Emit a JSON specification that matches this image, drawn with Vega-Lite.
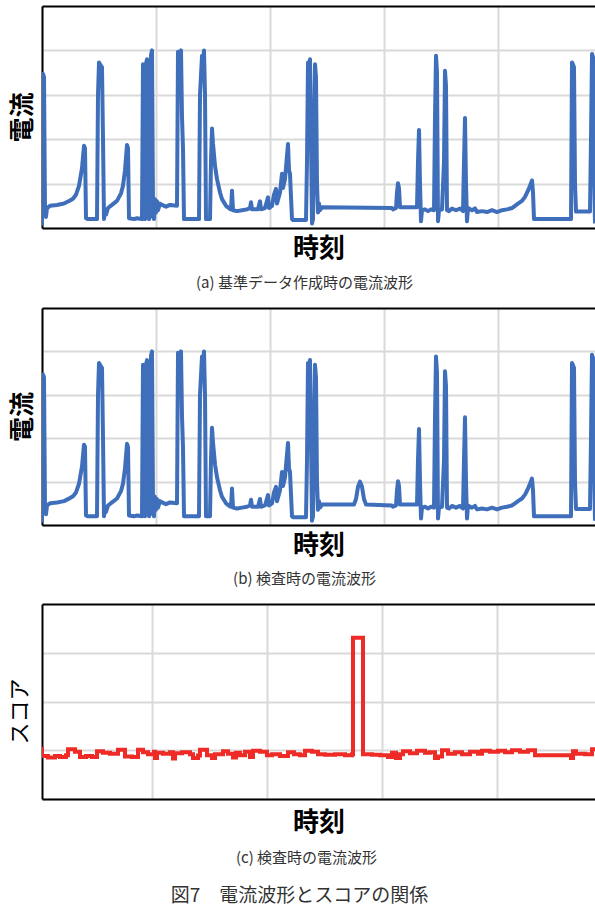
{
  "$schema": "https://vega.github.io/schema/vega-lite/v6.json",
  "padding": {"left": 8, "top": 6, "right": 0, "bottom": 4},
  "background": "white",
  "align": "none",
  "spacing": 17,
  "config": {
    "view": {"stroke": null},
    "font": "Noto Sans CJK JP",
    "axis": {"labels": false, "ticks": false, "domainColor": "black", "domainWidth": 2, "gridWidth": 2, "titleColor": "black"}
  },
  "datasets": {
    "a": [
      {"t": 0, "v": 0.05}, {"t": 1, "v": 3.47}, {"t": 2, "v": 3.4}, {"t": 3, "v": 0.4}, {"t": 4, "v": 0.25}, {"t": 5, "v": 0.45},
      {"t": 8, "v": 0.5}, {"t": 15, "v": 0.52}, {"t": 22, "v": 0.55}, {"t": 28, "v": 0.62}, {"t": 31, "v": 0.66}, {"t": 34, "v": 0.75},
      {"t": 37, "v": 0.95}, {"t": 40, "v": 1.35}, {"t": 42, "v": 1.85}, {"t": 43, "v": 1.8}, {"t": 44, "v": 0.22}, {"t": 46, "v": 0.2},
      {"t": 55, "v": 0.2}, {"t": 56, "v": 3.0}, {"t": 57, "v": 3.73}, {"t": 59, "v": 3.65}, {"t": 60, "v": 3.62}, {"t": 61, "v": 2.0},
      {"t": 62, "v": 0.2}, {"t": 63, "v": 0.38}, {"t": 64, "v": 0.3}, {"t": 66, "v": 0.45}, {"t": 70, "v": 0.52}, {"t": 75, "v": 0.61},
      {"t": 79, "v": 0.78}, {"t": 81, "v": 0.95}, {"t": 83, "v": 1.3}, {"t": 85, "v": 1.87}, {"t": 86, "v": 1.8}, {"t": 87, "v": 0.22},
      {"t": 92, "v": 0.2}, {"t": 95, "v": 0.22}, {"t": 100, "v": 0.2}, {"t": 101, "v": 3.69}, {"t": 102, "v": 3.5}, {"t": 103, "v": 0.2},
      {"t": 104, "v": 3.7}, {"t": 105, "v": 3.8}, {"t": 106, "v": 3.7}, {"t": 107, "v": 0.2}, {"t": 108, "v": 0.25}, {"t": 109, "v": 3.9},
      {"t": 110, "v": 4.0}, {"t": 111, "v": 0.5}, {"t": 112, "v": 0.2}, {"t": 113, "v": 0.65}, {"t": 114, "v": 0.35}, {"t": 115, "v": 0.6},
      {"t": 116, "v": 0.4}, {"t": 118, "v": 0.55}, {"t": 120, "v": 0.52}, {"t": 124, "v": 0.48}, {"t": 128, "v": 0.52}, {"t": 135, "v": 0.5},
      {"t": 136, "v": 3.97}, {"t": 137, "v": 3.8}, {"t": 138, "v": 3.9}, {"t": 139, "v": 4.0}, {"t": 140, "v": 2.5}, {"t": 141, "v": 1.78},
      {"t": 142, "v": 0.2}, {"t": 157, "v": 0.2}, {"t": 158, "v": 3.0}, {"t": 160, "v": 3.88}, {"t": 161, "v": 3.7}, {"t": 162, "v": 4.0},
      {"t": 163, "v": 3.0}, {"t": 164, "v": 0.2}, {"t": 168, "v": 0.2}, {"t": 169, "v": 1.5}, {"t": 170, "v": 2.24}, {"t": 171, "v": 1.9},
      {"t": 173, "v": 1.4}, {"t": 175, "v": 1.1}, {"t": 178, "v": 0.8}, {"t": 180, "v": 0.65}, {"t": 184, "v": 0.5}, {"t": 188, "v": 0.43},
      {"t": 189, "v": 0.42}, {"t": 190, "v": 0.84}, {"t": 191, "v": 0.4}, {"t": 195, "v": 0.38}, {"t": 200, "v": 0.4}, {"t": 205, "v": 0.42},
      {"t": 208, "v": 0.45}, {"t": 209, "v": 0.58}, {"t": 210, "v": 0.42}, {"t": 216, "v": 0.42}, {"t": 218, "v": 0.6}, {"t": 219, "v": 0.42},
      {"t": 223, "v": 0.45}, {"t": 226, "v": 0.69}, {"t": 227, "v": 0.45}, {"t": 230, "v": 0.5}, {"t": 232, "v": 0.75}, {"t": 234, "v": 0.88},
      {"t": 235, "v": 0.55}, {"t": 238, "v": 0.8}, {"t": 240, "v": 1.22}, {"t": 241, "v": 0.9}, {"t": 243, "v": 1.1}, {"t": 246, "v": 1.89},
      {"t": 247, "v": 1.3}, {"t": 248, "v": 1.22}, {"t": 249, "v": 0.7}, {"t": 250, "v": 0.2}, {"t": 251, "v": 0.18}, {"t": 264, "v": 0.18},
      {"t": 265, "v": 1.5}, {"t": 266, "v": 3.73}, {"t": 267, "v": 3.65}, {"t": 268, "v": 3.8}, {"t": 269, "v": 2.0}, {"t": 270, "v": 0.1},
      {"t": 271, "v": 0.2}, {"t": 272, "v": 2.0}, {"t": 273, "v": 3.69}, {"t": 274, "v": 3.4}, {"t": 275, "v": 1.0}, {"t": 276, "v": 0.35},
      {"t": 277, "v": 0.55}, {"t": 278, "v": 0.4}, {"t": 280, "v": 0.47}, {"t": 350, "v": 0.45}, {"t": 351, "v": 0.42}, {"t": 354, "v": 0.45},
      {"t": 355, "v": 0.8}, {"t": 356, "v": 1.01}, {"t": 357, "v": 0.9}, {"t": 358, "v": 0.47}, {"t": 375, "v": 0.47}, {"t": 376, "v": 1.5},
      {"t": 377, "v": 2.21}, {"t": 378, "v": 1.0}, {"t": 379, "v": 0.15}, {"t": 380, "v": 0.4}, {"t": 383, "v": 0.42}, {"t": 386, "v": 0.38},
      {"t": 389, "v": 0.42}, {"t": 392, "v": 0.4}, {"t": 393, "v": 2.5}, {"t": 394, "v": 3.88}, {"t": 395, "v": 3.5}, {"t": 396, "v": 0.15},
      {"t": 397, "v": 0.4}, {"t": 400, "v": 0.42}, {"t": 402, "v": 1.5}, {"t": 403, "v": 3.54}, {"t": 404, "v": 3.2}, {"t": 405, "v": 0.4},
      {"t": 407, "v": 0.38}, {"t": 410, "v": 0.44}, {"t": 414, "v": 0.4}, {"t": 418, "v": 0.44}, {"t": 421, "v": 0.38}, {"t": 422, "v": 1.5},
      {"t": 423, "v": 2.48}, {"t": 424, "v": 1.0}, {"t": 425, "v": 0.15}, {"t": 426, "v": 0.45}, {"t": 430, "v": 0.4}, {"t": 433, "v": 0.44},
      {"t": 435, "v": 0.36}, {"t": 440, "v": 0.38}, {"t": 445, "v": 0.36}, {"t": 450, "v": 0.4}, {"t": 455, "v": 0.36}, {"t": 460, "v": 0.4},
      {"t": 465, "v": 0.42}, {"t": 470, "v": 0.45}, {"t": 473, "v": 0.5}, {"t": 476, "v": 0.55}, {"t": 480, "v": 0.61}, {"t": 483, "v": 0.7},
      {"t": 486, "v": 0.84}, {"t": 488, "v": 0.95}, {"t": 490, "v": 1.07}, {"t": 491, "v": 0.8}, {"t": 492, "v": 0.2}, {"t": 500, "v": 0.2},
      {"t": 529, "v": 0.2}, {"t": 530, "v": 3.73}, {"t": 531, "v": 3.68}, {"t": 532, "v": 3.62}, {"t": 533, "v": 1.0}, {"t": 534, "v": 0.37},
      {"t": 548, "v": 0.37}, {"t": 549, "v": 2.0}, {"t": 550, "v": 3.92}, {"t": 551, "v": 3.85}, {"t": 552, "v": 1.5}, {"t": 553, "v": 0.1}
    ],
    "b": [
      {"t": 0, "v": 0.05}, {"t": 1, "v": 3.47}, {"t": 2, "v": 3.4}, {"t": 3, "v": 0.4}, {"t": 4, "v": 0.25}, {"t": 5, "v": 0.45},
      {"t": 8, "v": 0.5}, {"t": 15, "v": 0.52}, {"t": 22, "v": 0.55}, {"t": 28, "v": 0.62}, {"t": 31, "v": 0.66}, {"t": 34, "v": 0.75},
      {"t": 37, "v": 0.95}, {"t": 40, "v": 1.35}, {"t": 42, "v": 1.85}, {"t": 43, "v": 1.8}, {"t": 44, "v": 0.22}, {"t": 46, "v": 0.2},
      {"t": 55, "v": 0.2}, {"t": 56, "v": 3.0}, {"t": 57, "v": 3.73}, {"t": 59, "v": 3.65}, {"t": 60, "v": 3.62}, {"t": 61, "v": 2.0},
      {"t": 62, "v": 0.2}, {"t": 63, "v": 0.38}, {"t": 64, "v": 0.3}, {"t": 66, "v": 0.45}, {"t": 70, "v": 0.52}, {"t": 75, "v": 0.61},
      {"t": 79, "v": 0.78}, {"t": 81, "v": 0.95}, {"t": 83, "v": 1.3}, {"t": 85, "v": 1.87}, {"t": 86, "v": 1.8}, {"t": 87, "v": 0.22},
      {"t": 92, "v": 0.2}, {"t": 95, "v": 0.22}, {"t": 100, "v": 0.2}, {"t": 101, "v": 3.69}, {"t": 102, "v": 3.5}, {"t": 103, "v": 0.2},
      {"t": 104, "v": 3.7}, {"t": 105, "v": 3.8}, {"t": 106, "v": 3.7}, {"t": 107, "v": 0.2}, {"t": 108, "v": 0.25}, {"t": 109, "v": 3.9},
      {"t": 110, "v": 4.0}, {"t": 111, "v": 0.5}, {"t": 112, "v": 0.2}, {"t": 113, "v": 0.65}, {"t": 114, "v": 0.35}, {"t": 115, "v": 0.6},
      {"t": 116, "v": 0.4}, {"t": 118, "v": 0.55}, {"t": 120, "v": 0.52}, {"t": 124, "v": 0.48}, {"t": 128, "v": 0.52}, {"t": 135, "v": 0.5},
      {"t": 136, "v": 3.97}, {"t": 137, "v": 3.8}, {"t": 138, "v": 3.9}, {"t": 139, "v": 4.0}, {"t": 140, "v": 2.5}, {"t": 141, "v": 1.78},
      {"t": 142, "v": 0.2}, {"t": 157, "v": 0.2}, {"t": 158, "v": 3.0}, {"t": 160, "v": 3.88}, {"t": 161, "v": 3.7}, {"t": 162, "v": 4.0},
      {"t": 163, "v": 3.0}, {"t": 164, "v": 0.2}, {"t": 168, "v": 0.2}, {"t": 169, "v": 1.5}, {"t": 170, "v": 2.24}, {"t": 171, "v": 1.9},
      {"t": 173, "v": 1.4}, {"t": 175, "v": 1.1}, {"t": 178, "v": 0.8}, {"t": 180, "v": 0.65}, {"t": 184, "v": 0.5}, {"t": 188, "v": 0.43},
      {"t": 189, "v": 0.42}, {"t": 190, "v": 0.84}, {"t": 191, "v": 0.4}, {"t": 195, "v": 0.38}, {"t": 200, "v": 0.4}, {"t": 205, "v": 0.42},
      {"t": 208, "v": 0.45}, {"t": 209, "v": 0.58}, {"t": 210, "v": 0.42}, {"t": 216, "v": 0.42}, {"t": 218, "v": 0.6}, {"t": 219, "v": 0.42},
      {"t": 223, "v": 0.45}, {"t": 226, "v": 0.69}, {"t": 227, "v": 0.45}, {"t": 230, "v": 0.5}, {"t": 232, "v": 0.75}, {"t": 234, "v": 0.88},
      {"t": 235, "v": 0.55}, {"t": 238, "v": 0.8}, {"t": 240, "v": 1.22}, {"t": 241, "v": 0.9}, {"t": 243, "v": 1.1}, {"t": 246, "v": 1.89},
      {"t": 247, "v": 1.3}, {"t": 248, "v": 1.22}, {"t": 249, "v": 0.7}, {"t": 250, "v": 0.2}, {"t": 251, "v": 0.18}, {"t": 264, "v": 0.18},
      {"t": 265, "v": 1.5}, {"t": 266, "v": 3.73}, {"t": 267, "v": 3.65}, {"t": 268, "v": 3.8}, {"t": 269, "v": 2.0}, {"t": 270, "v": 0.1},
      {"t": 271, "v": 0.2}, {"t": 272, "v": 2.0}, {"t": 273, "v": 3.69}, {"t": 274, "v": 3.4}, {"t": 275, "v": 1.0}, {"t": 276, "v": 0.35},
      {"t": 277, "v": 0.55}, {"t": 278, "v": 0.4}, {"t": 280, "v": 0.47}, {"t": 312, "v": 0.47}, {"t": 314, "v": 0.6}, {"t": 316, "v": 0.88},
      {"t": 318, "v": 1.0}, {"t": 320, "v": 0.88}, {"t": 322, "v": 0.6}, {"t": 324, "v": 0.47},
      {"t": 350, "v": 0.45}, {"t": 351, "v": 0.42}, {"t": 354, "v": 0.45},
      {"t": 355, "v": 0.8}, {"t": 356, "v": 1.01}, {"t": 357, "v": 0.9}, {"t": 358, "v": 0.47}, {"t": 375, "v": 0.47}, {"t": 376, "v": 1.5},
      {"t": 377, "v": 2.21}, {"t": 378, "v": 1.0}, {"t": 379, "v": 0.15}, {"t": 380, "v": 0.4}, {"t": 383, "v": 0.42}, {"t": 386, "v": 0.38},
      {"t": 389, "v": 0.42}, {"t": 392, "v": 0.4}, {"t": 393, "v": 2.5}, {"t": 394, "v": 3.88}, {"t": 395, "v": 3.5}, {"t": 396, "v": 0.15},
      {"t": 397, "v": 0.4}, {"t": 400, "v": 0.42}, {"t": 402, "v": 1.5}, {"t": 403, "v": 3.54}, {"t": 404, "v": 3.2}, {"t": 405, "v": 0.4},
      {"t": 407, "v": 0.38}, {"t": 410, "v": 0.44}, {"t": 414, "v": 0.4}, {"t": 418, "v": 0.44}, {"t": 421, "v": 0.38}, {"t": 422, "v": 1.5},
      {"t": 423, "v": 2.48}, {"t": 424, "v": 1.0}, {"t": 425, "v": 0.15}, {"t": 426, "v": 0.45}, {"t": 430, "v": 0.4}, {"t": 433, "v": 0.44},
      {"t": 435, "v": 0.36}, {"t": 440, "v": 0.38}, {"t": 445, "v": 0.36}, {"t": 450, "v": 0.4}, {"t": 455, "v": 0.36}, {"t": 460, "v": 0.4},
      {"t": 465, "v": 0.42}, {"t": 470, "v": 0.45}, {"t": 473, "v": 0.5}, {"t": 476, "v": 0.55}, {"t": 480, "v": 0.61}, {"t": 483, "v": 0.7},
      {"t": 486, "v": 0.84}, {"t": 488, "v": 0.95}, {"t": 490, "v": 1.07}, {"t": 491, "v": 0.8}, {"t": 492, "v": 0.2}, {"t": 500, "v": 0.2},
      {"t": 529, "v": 0.2}, {"t": 530, "v": 3.73}, {"t": 531, "v": 3.68}, {"t": 532, "v": 3.62}, {"t": 533, "v": 1.0}, {"t": 534, "v": 0.37},
      {"t": 548, "v": 0.37}, {"t": 549, "v": 2.0}, {"t": 550, "v": 3.92}, {"t": 551, "v": 3.85}, {"t": 552, "v": 1.5}, {"t": 553, "v": 0.1}
    ],
    "c": [
      {"t": 0, "v": 1.03}, {"t": 5, "v": 0.88}, {"t": 11, "v": 0.85}, {"t": 18, "v": 0.88}, {"t": 23, "v": 0.86}, {"t": 29, "v": 0.9},
      {"t": 31, "v": 1.02}, {"t": 38, "v": 0.97}, {"t": 43, "v": 0.86}, {"t": 49, "v": 0.88}, {"t": 55, "v": 0.86}, {"t": 60, "v": 0.98},
      {"t": 66, "v": 0.95}, {"t": 73, "v": 0.93}, {"t": 81, "v": 1.01}, {"t": 88, "v": 0.87}, {"t": 95, "v": 0.86}, {"t": 101, "v": 1.01},
      {"t": 106, "v": 0.96}, {"t": 111, "v": 0.92}, {"t": 117, "v": 0.97}, {"t": 118, "v": 0.84}, {"t": 120, "v": 0.95}, {"t": 126, "v": 0.93},
      {"t": 133, "v": 0.96}, {"t": 136, "v": 0.83}, {"t": 138, "v": 0.94}, {"t": 145, "v": 0.96}, {"t": 153, "v": 0.92}, {"t": 156, "v": 0.84},
      {"t": 161, "v": 0.89}, {"t": 163, "v": 1.01}, {"t": 170, "v": 0.9}, {"t": 175, "v": 0.84}, {"t": 178, "v": 0.92}, {"t": 186, "v": 0.98},
      {"t": 191, "v": 0.93}, {"t": 196, "v": 0.85}, {"t": 199, "v": 0.95}, {"t": 203, "v": 0.9}, {"t": 208, "v": 0.97}, {"t": 213, "v": 0.86},
      {"t": 216, "v": 0.99}, {"t": 223, "v": 0.97}, {"t": 230, "v": 0.9}, {"t": 235, "v": 0.92}, {"t": 243, "v": 0.88}, {"t": 251, "v": 0.96},
      {"t": 257, "v": 0.92}, {"t": 263, "v": 0.9}, {"t": 268, "v": 0.99}, {"t": 275, "v": 0.97}, {"t": 281, "v": 0.92}, {"t": 288, "v": 0.91},
      {"t": 298, "v": 0.92}, {"t": 308, "v": 0.9}, {"t": 315, "v": 0.92}, {"t": 316, "v": 3.31}, {"t": 326, "v": 0.92}, {"t": 335, "v": 0.91},
      {"t": 343, "v": 0.9}, {"t": 351, "v": 0.86}, {"t": 355, "v": 0.95}, {"t": 359, "v": 0.84}, {"t": 363, "v": 0.92}, {"t": 366, "v": 0.98},
      {"t": 373, "v": 0.94}, {"t": 380, "v": 0.99}, {"t": 388, "v": 0.95}, {"t": 393, "v": 0.96}, {"t": 398, "v": 0.84}, {"t": 401, "v": 0.87},
      {"t": 405, "v": 1.0}, {"t": 411, "v": 0.93}, {"t": 418, "v": 0.96}, {"t": 425, "v": 0.92}, {"t": 433, "v": 0.97}, {"t": 441, "v": 0.93},
      {"t": 445, "v": 0.99}, {"t": 453, "v": 0.97}, {"t": 461, "v": 0.99}, {"t": 468, "v": 0.96}, {"t": 475, "v": 1.0}, {"t": 483, "v": 0.97},
      {"t": 491, "v": 1.0}, {"t": 498, "v": 0.9}, {"t": 508, "v": 0.9}, {"t": 518, "v": 0.9}, {"t": 528, "v": 0.9}, {"t": 534, "v": 0.84},
      {"t": 536, "v": 0.98}, {"t": 539, "v": 0.93}, {"t": 548, "v": 0.92}, {"t": 555, "v": 1.02}, {"t": 558, "v": 1.02}
    ]
  },
  "vconcat": [
    {
      "width": 553, "height": 222,
      "data": {"name": "a"},
      "mark": {"type": "line", "color": "#3f6fba", "strokeWidth": 4, "clip": true, "strokeJoin": "round"},
      "encoding": {
        "x": {"field": "t", "type": "quantitative", "scale": {"domain": [0, 553], "nice": false, "zero": false},
          "axis": {"values": [0, 114, 228, 342, 456], "title": "時刻", "gridColor": "#d9d9d9", "titleFontSize": 26, "titleFontWeight": "bold", "titlePadding": 7}},
        "y": {"field": "v", "type": "quantitative", "scale": {"domain": [0, 5], "nice": false},
          "axis": {"values": [0, 1, 2, 3, 4, 5], "title": "電流", "gridColor": {"condition": {"test": "datum.value == 5", "value": "black"}, "value": "#d9d9d9"}, "titleFontSize": 25, "titleFontWeight": "bold", "titlePadding": 7}}
      },
      "title": {"text": "(a) 基準データ作成時の電流波形", "orient": "bottom", "fontSize": 15, "fontWeight": "normal", "color": "#333333", "dx": -14, "offset": 15}
    },
    {
      "width": 553, "height": 217,
      "data": {"name": "b"},
      "mark": {"type": "line", "color": "#3f6fba", "strokeWidth": 4, "clip": true, "strokeJoin": "round"},
      "encoding": {
        "x": {"field": "t", "type": "quantitative", "scale": {"domain": [0, 553], "nice": false, "zero": false},
          "axis": {"values": [0, 114, 228, 342, 456], "title": "時刻", "gridColor": "#d9d9d9", "titleFontSize": 26, "titleFontWeight": "bold", "titlePadding": 7}},
        "y": {"field": "v", "type": "quantitative", "scale": {"domain": [0, 5], "nice": false},
          "axis": {"values": [0, 1, 2, 3, 4, 5], "title": "電流", "gridColor": {"condition": {"test": "datum.value == 5", "value": "black"}, "value": "#d9d9d9"}, "titleFontSize": 25, "titleFontWeight": "bold", "titlePadding": 7}}
      },
      "title": {"text": "(b) 検査時の電流波形", "orient": "bottom", "fontSize": 15, "fontWeight": "normal", "color": "#333333", "dx": -14, "offset": 14}
    },
    {
      "width": 553, "height": 195,
      "data": {"name": "c"},
      "mark": {"type": "line", "color": "#ee2b26", "strokeWidth": 4, "clip": true, "interpolate": "step-after"},
      "encoding": {
        "x": {"field": "t", "type": "quantitative", "scale": {"domain": [5, 558], "nice": false, "zero": false},
          "axis": {"values": [115, 230, 345, 460], "title": "時刻", "gridColor": "#d9d9d9", "titleFontSize": 26, "titleFontWeight": "bold", "titlePadding": 10}},
        "y": {"field": "v", "type": "quantitative", "scale": {"domain": [0, 4], "nice": false},
          "axis": {"values": [0, 1, 2, 3, 4], "title": "スコア", "titleY": 107, "gridColor": {"condition": {"test": "datum.value == 4", "value": "black"}, "value": "#d9d9d9"}, "titleFontSize": 22, "titleFontWeight": "normal", "titlePadding": 11}}
      },
      "title": {"text": "(c) 検査時の電流波形", "orient": "bottom", "fontSize": 15, "fontWeight": "normal", "color": "#333333", "dx": -12, "offset": 16}
    }
  ],
  "title": {"text": "図7　電流波形とスコアの関係", "orient": "bottom", "anchor": "middle", "fontSize": 19, "fontWeight": "normal", "color": "#333333", "offset": 21, "dx": -2}
}
